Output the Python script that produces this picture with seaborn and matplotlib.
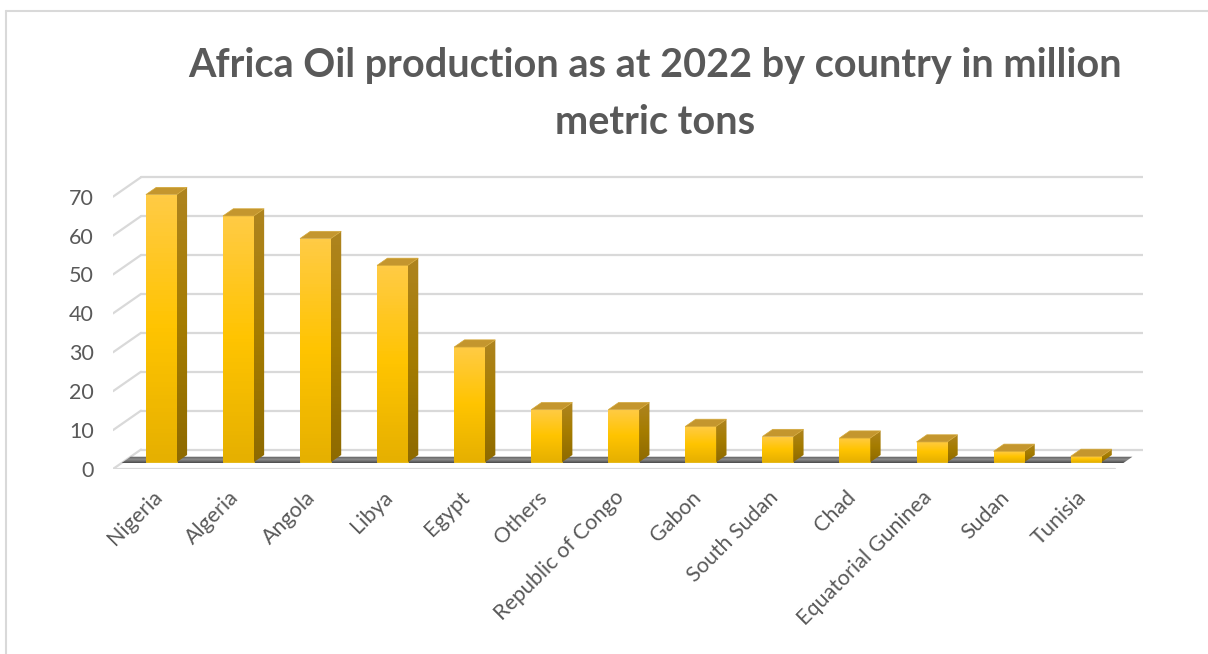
import matplotlib
matplotlib.use("Agg")
import matplotlib.pyplot as plt
from matplotlib.patches import Polygon
from matplotlib.lines import Line2D
from matplotlib.colors import LinearSegmentedColormap
import seaborn as sns
import numpy as np
import pandas as pd

countries = ["Nigeria", "Algeria", "Angola", "Libya", "Egypt", "Others",
             "Republic of Congo", "Gabon", "South Sudan", "Chad",
             "Equatorial Guninea", "Sudan", "Tunisia"]
production = [68.8, 63.3, 57.5, 50.6, 29.6, 13.5, 13.5, 9.2, 6.6, 6.2, 5.2, 2.8, 1.5]
y_ticks = [0, 10, 20, 30, 40, 50, 60, 70]
title = "Africa Oil production as at 2022 by country in million\nmetric tons"

df = pd.DataFrame({"Country": countries, "Production": production})

sns.set_theme(style="white")
plt.rcParams["font.family"] = ["Lato", "DejaVu Sans"]

W, H = 1208, 654
fig = plt.figure(figsize=(W / 100, H / 100), dpi=100)

# fake 3-D box: front plane in pixels, depth in data units
px_left, px_zero, px_cat, px_unit = 113, 469, 77.06, 3.89
dep_x, dep_y = 0.363, 5.0
ymax = 76
n = len(countries)
ax = fig.add_axes([px_left / W, (H - px_zero) / H,
                   (n + dep_x) * px_cat / W, ymax * px_unit / H])

sns.barplot(data=df, x="Country", y="Production", ax=ax, width=0.4,
            color="#FFC000", edgecolor="#F5C518", linewidth=0.6,
            errorbar=None, zorder=3)
bars = list(ax.patches)

grid_c = "#D9D9D9"
# back wall and side wall gridlines
for v in y_ticks:
    ax.plot([-0.5 + dep_x, n - 0.5 + dep_x], [v + dep_y] * 2, color=grid_c, lw=1.6, zorder=0.5)
    ax.plot([-0.5, -0.5 + dep_x], [v, v + dep_y], color=grid_c, lw=1.6, zorder=0.5)
ax.plot([-0.5, n - 0.5], [0, 0], color=grid_c, lw=1.6, zorder=0.5)

# floor band
f0, f1 = 0.30, 0.63
band = Polygon([(-0.5 + f0 * dep_x, f0 * dep_y), (n - 0.5 + f0 * dep_x, f0 * dep_y),
                (n - 0.5 + f1 * dep_x, f1 * dep_y), (-0.5 + f1 * dep_x, f1 * dep_y)],
               closed=True, facecolor="none", edgecolor="none", zorder=1)
ax.add_patch(band)
floor_cmap = LinearSegmentedColormap.from_list("floor", ["#4a4a4a", "#8c8c8c", "#5a5a5a"])
img = ax.imshow(np.linspace(0, 1, 64).reshape(-1, 1), cmap=floor_cmap, origin="lower",
                extent=[-0.5, n, f0 * dep_y, f1 * dep_y], aspect="auto", zorder=1)
img.set_clip_path(band)

front_cmap = LinearSegmentedColormap.from_list("front", ["#E6B000", "#FFC400", "#FFCB45"])
side_cmap = LinearSegmentedColormap.from_list("side", ["#8E6A00", "#A57C00", "#AE8420"])
ff, fb = 0.35, 0.72
bx, by = (fb - ff) * dep_x, (fb - ff) * dep_y
for p in bars:
    x0 = p.get_x() + ff * dep_x
    w, h = p.get_width(), p.get_height()
    y0 = ff * dep_y
    p.set_x(x0)
    p.set_y(y0)
    x1 = x0 + w
    grad = ax.imshow(np.linspace(0, 1, 64).reshape(-1, 1), cmap=front_cmap, origin="lower",
                     extent=[x0, x1, y0, y0 + h], aspect="auto", zorder=3.1)
    grad.set_clip_path(p)
    side = Polygon([(x1, y0), (x1 + bx, y0 + by), (x1 + bx, y0 + h + by), (x1, y0 + h)],
                   closed=True, facecolor="none", edgecolor="none", zorder=3)
    ax.add_patch(side)
    sg = ax.imshow(np.linspace(0, 1, 64).reshape(-1, 1), cmap=side_cmap, origin="lower",
                   extent=[x1, x1 + bx, y0, y0 + h + by], aspect="auto", zorder=3)
    sg.set_clip_path(side)
    ax.add_patch(Polygon([(x0, y0 + h), (x1, y0 + h), (x1 + bx, y0 + h + by), (x0 + bx, y0 + h + by)],
                         closed=True, facecolor="#C4962E", edgecolor="#D4A838", lw=0.5, zorder=3.2))

ax.set_xlim(-0.5, n - 0.5 + dep_x)
ax.set_ylim(0, ymax)
ax.set_xlabel("")
ax.set_ylabel("")
for s in ax.spines.values():
    s.set_visible(False)

ax.set_xticks([i + 0.0 for i in range(n)])
ax.set_xticklabels(countries, rotation=45, ha="right", rotation_mode="anchor",
                   color="#595959", fontsize=15.5)
ax.set_yticks(y_ticks)
ax.set_yticklabels([str(v) for v in y_ticks], color="#595959", fontsize=15.5)
ax.tick_params(axis="x", length=0, pad=13)
ax.tick_params(axis="y", length=0, pad=14)

fig.text(655 / W, 1 - 47 / H, title, ha="center", va="top", fontsize=28.5,
         fontweight="bold", color="#595959", linespacing=1.68)

# chart border (cropped on the right and bottom)
fig.add_artist(Line2D([6 / W, 6 / W], [0, 1 - 11 / H], color="#D9D9D9", lw=1.5))
fig.add_artist(Line2D([6 / W, 1], [1 - 11 / H] * 2, color="#D9D9D9", lw=1.5))

fig.savefig("out.png", dpi=100)
